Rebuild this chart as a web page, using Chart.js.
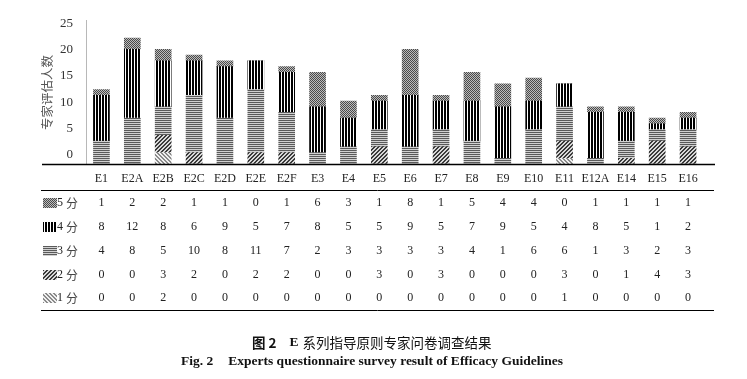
<!DOCTYPE html>
<html><head><meta charset="utf-8">
<script src="https://cdn.jsdelivr.net/npm/chart.js@4.4.0/dist/chart.umd.min.js"></script>
<style>html,body{margin:0;padding:0;background:#fff;}#wrap{width:747px;height:379px;position:relative;}</style>
</head><body><div id="wrap"><canvas id="c" width="747" height="379"></canvas></div>
<script>
const categories = ['E1','E2A','E2B','E2C','E2D','E2E','E2F','E3','E4','E5','E6','E7','E8','E9','E10','E11','E12A','E14','E15','E16'];
const score5 = [1,2,2,1,1,0,1,6,3,1,8,1,5,4,4,0,1,1,1,1];
const score4 = [8,12,8,6,9,5,7,8,5,5,9,5,7,9,5,4,8,5,1,2];
const score3 = [4,8,5,10,8,11,7,2,3,3,3,3,4,1,6,6,1,3,2,3];
const score2 = [0,0,3,2,0,2,2,0,0,3,0,3,0,0,0,3,0,1,4,3];
const score1 = [0,0,2,0,0,0,0,0,0,0,0,0,0,0,0,1,0,0,0,0];
const yTickLabels = [0,5,10,15,20,25];
const seriesLabels = ['5','4','3','2','1'];
const unitText = '分';
const yTitle = '专家评估人数';
const captionCN = ['图 2', 'E', '系列指导原则专家问卷调查结果'];
const captionEN = ['Fig. 2', 'Experts questionnaire survey result of Efficacy Guidelines'];

const canvas = document.getElementById('c');
const mainCtx = canvas.getContext('2d');
function pat(w, h, fn) {
  const c = document.createElement('canvas'); c.width = w; c.height = h;
  const g = c.getContext('2d'); fn(g, w, h);
  return mainCtx.createPattern(c, 'repeat');
}
const p5 = pat(2, 2, (g) => { g.fillStyle = '#bcbcbc'; g.fillRect(0,0,2,2); g.fillStyle = '#4a4a4a'; g.fillRect(0,0,1,1); g.fillRect(1,1,1,1); });
const p4 = pat(3, 1, (g) => { g.fillStyle = '#fff'; g.fillRect(0,0,3,1); g.fillStyle = '#000'; g.fillRect(0,0,2,1); });
const p3 = pat(1, 2, (g) => { g.fillStyle = '#d0d0d0'; g.fillRect(0,0,1,2); g.fillStyle = '#5a5a5a'; g.fillRect(0,0,1,1); });
const p2 = pat(4, 4, (g) => { g.fillStyle = '#d8d8d8'; g.fillRect(0,0,4,4); g.fillStyle = '#3a3a3a';
  for (let x=0;x<4;x++) for (let y=0;y<4;y++) if ((x+y)%4<2) g.fillRect(x,y,1,1); });
const p1 = pat(4, 4, (g) => { g.fillStyle = '#f0f0f0'; g.fillRect(0,0,4,4); g.fillStyle = '#8a8a8a';
  for (let x=0;x<4;x++) for (let y=0;y<4;y++) if ((x-y+8)%4<2) g.fillRect(x,y,1,1); });
const patterns = [p5, p4, p3, p2, p1];
const seriesData = [score5, score4, score3, score2, score1];

const SERIF = '"Liberation Serif","Times New Roman",serif';
const CJK = '"Noto Sans CJK SC",sans-serif';

const tablePlugin = {
  id: 'table',
  afterDraw(chart) {
    const ctx = chart.ctx, xs = chart.scales.x;
    ctx.save();
    ctx.strokeStyle = '#000';
    ctx.lineWidth = 1.5;
    ctx.beginPath(); ctx.moveTo(42, 164.5); ctx.lineTo(715, 164.5); ctx.stroke();
    ctx.lineWidth = 1;
    ctx.beginPath(); ctx.moveTo(41, 190.5); ctx.lineTo(714, 190.5); ctx.stroke();
    ctx.beginPath(); ctx.moveTo(41, 310.5); ctx.lineTo(714, 310.5); ctx.stroke();
    ctx.fillStyle = '#222';
    ctx.font = '12px ' + SERIF;
    ctx.textAlign = 'center'; ctx.textBaseline = 'middle';
    categories.forEach((c, i) => ctx.fillText(c, xs.getPixelForValue(i), 179));
    const rowY = [203, 227, 251, 275, 298];
    seriesData.forEach((arr, r) => {
      const y = rowY[r];
      ctx.fillStyle = patterns[r];
      ctx.fillRect(43, y - 5, 14, 10);
      ctx.fillStyle = '#222';
      ctx.textAlign = 'left';
      ctx.font = '12px ' + SERIF;
      ctx.fillText(seriesLabels[r], 57, y);
      ctx.fillStyle = '#444';
      ctx.font = '12px ' + CJK;
      ctx.fillText(unitText, 66, y);
      ctx.fillStyle = '#222';
      ctx.font = '12px ' + SERIF;
      ctx.textAlign = 'center';
      arr.forEach((v, i) => ctx.fillText(String(v), xs.getPixelForValue(i), y));
    });
    // captions
    ctx.textAlign = 'left';
    ctx.fillStyle = '#111';
    let x = 252, y1 = 343;
    ctx.font = 'bold 13.5px ' + CJK; ctx.fillText(captionCN[0], x, y1);
    x += ctx.measureText(captionCN[0]).width + 13;
    ctx.font = 'bold 13.5px ' + SERIF; ctx.fillText(captionCN[1], x, y1);
    x += ctx.measureText(captionCN[1]).width + 4;
    ctx.font = '13.5px ' + CJK; ctx.fillText(captionCN[2], x, y1);
    let x2 = 181, y2 = 362;
    ctx.font = 'bold 13.5px ' + SERIF; ctx.fillText(captionEN[0], x2, y2);
    x2 += ctx.measureText(captionEN[0]).width + 15;
    ctx.fillText(captionEN[1], x2, y2);
    ctx.restore();
  }
};

const bgPlugin = { id: 'bg', beforeDraw(chart) { const c = chart.ctx; c.save(); c.fillStyle = '#fff'; c.fillRect(0,0,chart.width,chart.height); c.restore(); } };

const datasets = [4,3,2,1,0].map(r => ({
  label: seriesLabels[r] + ' ' + unitText,
  data: seriesData[r],
  backgroundColor: patterns[r],
  borderWidth: 0,
  barThickness: 16,
  stack: 's',
  yAxisID: 'y'
}));

new Chart(canvas, {
  type: 'bar',
  data: { labels: categories, datasets },
  options: {
    responsive: false,
    animation: false,
    devicePixelRatio: 1,
    layout: { padding: { left: 0, right: 43.5, top: 14, bottom: 215 } },
    plugins: { legend: { display: false }, tooltip: { enabled: false } },
    scales: {
      x: { display: false, offset: true, stacked: true, grid: { display: false } },
      y: { display: false, stacked: true, min: 0, max: 25 },
      y2: {
        position: 'left', min: -1.825, max: 25.55,
        afterFit: (s) => { s.width = 86; },
        afterBuildTicks: (s) => { s.ticks = yTickLabels.map(v => ({ value: v })); },
        grid: { display: false, drawTicks: false },
        border: { display: true, color: '#b8b8b8', width: 1 },
        ticks: { padding: 13, color: '#333', font: { family: SERIF, size: 13 } },
        title: { display: true, text: yTitle, color: '#555', font: { family: CJK, size: 12.5 }, padding: { top: 40, bottom: 0 } }
      }
    }
  },
  plugins: [bgPlugin, tablePlugin]
});
</script></body></html>
